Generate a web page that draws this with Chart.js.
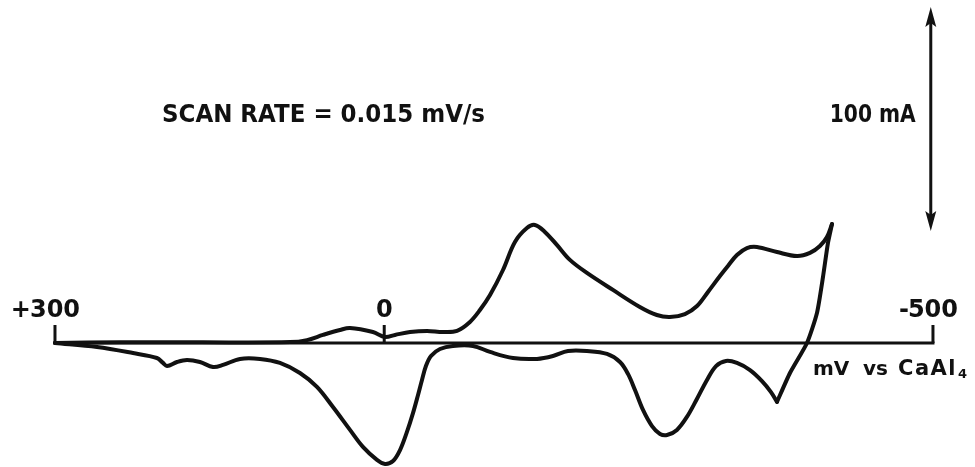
<!DOCTYPE html>
<html>
<head>
<meta charset="utf-8">
<script src="https://cdn.jsdelivr.net/npm/chart.js@4.4.1/dist/chart.umd.min.js"></script>
<style>
  html, body { margin: 0; padding: 0; background: #ffffff; }
  #wrap { width: 975px; height: 467px; position: relative; }
</style>
</head>
<body>
<div id="wrap"><canvas id="cv"></canvas></div>
<script>
// Cyclic voltammogram, potential in mV vs CaAl4, current in mA.
// Forward sweep: +300 mV toward the negative limit.
const potentialForward = [300, 261.7, 228.9, 207.1, 201.6, 197.9, 188.8, 179.7, 167.9, 156, 146.9, 131.4, 113.2, 95, 76.8, 61.3, 46.7, 31.2, 19.4, 6.6, -0.7, -8, -14.4, -20.7, -26.2, -30.8, -34.4, -38, -42.6, -50.8, -62.6, -80.9, -96.4, -117.3, -139.2, -153.8, -167.4, -184.7, -203, -214.8, -222.1, -228.5, -235.8, -244, -251.3, -257.7, -266.7, -275.8, -284.9, -294.1, -302.3, -311.4, -321.4, -333.3, -344.2, -352.4, -357.9];
const currentForward = [0, -1.8, -4.5, -6.7, -8.9, -10.3, -8.5, -7.6, -8.5, -10.7, -9.8, -7.1, -7.1, -8.9, -13.4, -19.6, -28.6, -38.8, -46.4, -52.2, -54, -52.7, -47.8, -39.7, -31.3, -23.2, -16.5, -10.3, -5.8, -2.7, -1.3, -1.3, -4, -6.7, -7.1, -5.8, -3.6, -3.6, -4.9, -8.5, -13.8, -21, -29.9, -37.1, -40.6, -41.1, -38.8, -33, -25, -16.5, -10.3, -8, -8.9, -12.1, -17, -21.9, -26.3];

// Steep rise up to the switching potential.
const potentialSwitch = [-357.9, -369.7, -385.2, -394.3, -399.8, -404.3, -408];
const currentSwitch = [-26.3, -13.4, 0, 13.4, 29.5, 44.6, 53.1];

// Return sweep: switching potential back to +300 mV.
const potentialReturn = [-408, -403.4, -397, -387.9, -376.1, -357.9, -339.6, -330.5, -321.4, -313.2, -305.9, -295, -285, -274, -260.3, -248.4, -232.9, -208.4, -184.7, -169.2, -157.3, -146.4, -137.3, -130, -119.1, -108.2, -96.4, -87.2, -78.1, -66.3, -53.5, -39, -23.5, -9.8, -0.7, 10.3, 31.2, 40.3, 55.8, 70.4, 85.9, 168, 241, 300];
const currentReturn = [53.1, 47.3, 43.3, 40.2, 38.8, 40.6, 42.9, 42.4, 39.3, 34.4, 29.9, 22.8, 16.5, 12.9, 11.6, 12.5, 16.1, 23.7, 31.3, 37.1, 43.8, 49.6, 52.7, 51.3, 45.1, 32.6, 21.4, 14.7, 9.4, 5.4, 4.9, 5.4, 4.9, 3.6, 2.7, 4.9, 6.7, 5.8, 3.6, 1.3, 0.4, 0.3, 0.3, 0];

// Potential axis ticks and labels.
const tickValues = [300, 0, -500];
const tickLabels = ['+300', '0', '-500'];

// Current scale bar: 100 mA drawn at the negative end of the axis.
const scaleBarPotential = -498;
const scaleBarCurrent = [50, 150];
const scaleBarLabel = '100 mA';

const scanRateLabel = 'SCAN RATE = 0.015 mV/s';

const INK = '#111111';
const FONT = '"DejaVu Sans", "Liberation Sans", sans-serif';

function points(xs, ys) {
  return xs.map((v, i) => ({ x: v, y: ys[i] }));
}

const curveStyle = {
  showLine: true,
  borderColor: INK,
  borderWidth: 4,
  pointRadius: 0,
  fill: false,
  borderCapStyle: 'round',
  borderJoinStyle: 'round'
};

// Potential axis line with its ticks and labels, drawn under the trace.
const potentialAxis = {
  id: 'potentialAxis',
  beforeDatasetsDraw(chart) {
    const { ctx, scales: { x, y } } = chart;
    const y0 = y.getPixelForValue(0);
    ctx.save();
    ctx.strokeStyle = INK;
    ctx.fillStyle = INK;
    ctx.lineWidth = 3;
    ctx.lineCap = 'butt';
    ctx.beginPath();
    ctx.moveTo(x.getPixelForValue(tickValues[0]) - 1.5, y0);
    ctx.lineTo(x.getPixelForValue(tickValues[tickValues.length - 1]) + 1.5, y0);
    ctx.stroke();
    ctx.font = 'bold 24px ' + FONT;
    ctx.textBaseline = 'alphabetic';
    tickValues.forEach((v, i) => {
      const px = x.getPixelForValue(v);
      ctx.beginPath();
      ctx.moveTo(px, y0);
      ctx.lineTo(px, y0 - 18);
      ctx.stroke();
      const label = tickLabels[i];
      const m = label.match(/^([+-]?)(.*)$/);
      const sign = m[1], digits = m[2];
      ctx.textAlign = 'center';
      ctx.fillText(digits, px, y0 - 26);
      if (sign) {
        const w = ctx.measureText(digits).width;
        ctx.textAlign = 'right';
        ctx.fillText(sign, px - w / 2 + 1, y0 - 26);
      }
    });
    ctx.restore();
  }
};

// Text and the current scale bar, drawn over the trace.
const annotations = {
  id: 'annotations',
  afterDatasetsDraw(chart) {
    const { ctx, scales: { x, y } } = chart;
    const y0 = y.getPixelForValue(0);
    ctx.save();
    ctx.fillStyle = INK;
    ctx.strokeStyle = INK;

    // axis title
    ctx.textAlign = 'left';
    ctx.textBaseline = 'alphabetic';
    ctx.font = 'bold 20px ' + FONT;
    const ty = y0 + 32;
    ctx.fillText('mV', 813, ty);
    ctx.fillText('vs', 863, ty);
    ctx.font = 'bold 21px ' + FONT;
    ctx.letterSpacing = '1.5px';
    ctx.fillText('CaAl', 898, ty);
    const wCaAl = ctx.measureText('CaAl').width;
    ctx.letterSpacing = '0px';
    ctx.font = 'bold 13px ' + FONT;
    ctx.fillText('4', 898 + wCaAl + 1, ty + 3);

    // scan rate note
    ctx.font = 'bold 24px ' + FONT;
    ctx.fillText(scanRateLabel, 162, 122, 323);

    // scale bar with arrowheads at both ends
    const bx = x.getPixelForValue(scaleBarPotential);
    const yLo = y.getPixelForValue(scaleBarCurrent[0]);
    const yHi = y.getPixelForValue(scaleBarCurrent[1]);
    ctx.lineWidth = 3;
    ctx.beginPath();
    ctx.moveTo(bx, yHi + 12);
    ctx.lineTo(bx, yLo - 12);
    ctx.stroke();
    const head = (tipY, dir) => {
      ctx.beginPath();
      ctx.moveTo(bx, tipY);
      ctx.lineTo(bx - 5.5, tipY + dir * 20);
      ctx.lineTo(bx, tipY + dir * 16);
      ctx.lineTo(bx + 5.5, tipY + dir * 20);
      ctx.closePath();
      ctx.fill();
    };
    head(yHi, 1);
    head(yLo, -1);

    ctx.font = 'bold 24px ' + FONT;
    ctx.textAlign = 'right';
    ctx.fillText(scaleBarLabel, bx - 15, (yHi + yLo) / 2 + 3, 86);
    ctx.restore();
  }
};

new Chart(document.getElementById('cv'), {
  type: 'scatter',
  data: {
    datasets: [
      Object.assign({ label: 'forward', data: points(potentialForward, currentForward), tension: 0.35 }, curveStyle),
      Object.assign({ label: 'switch', data: points(potentialSwitch, currentSwitch), tension: 0.2 }, curveStyle),
      Object.assign({ label: 'return', data: points(potentialReturn, currentReturn), tension: 0.35 }, curveStyle)
    ]
  },
  options: {
    responsive: true,
    maintainAspectRatio: false,
    animation: false,
    layout: { padding: 0 },
    plugins: { legend: { display: false }, tooltip: { enabled: false }, title: { display: false } },
    scales: {
      x: { type: 'linear', reverse: true, min: -538.3, max: 350.1, display: false },
      y: { type: 'linear', min: -55.36, max: 153.13, display: false }
    }
  },
  plugins: [potentialAxis, annotations]
});
</script>
</body>
</html>
